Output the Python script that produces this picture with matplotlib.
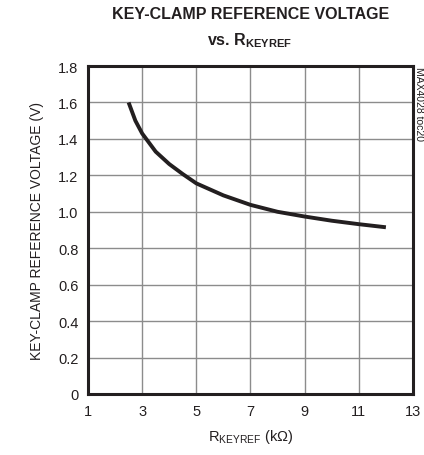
import matplotlib.pyplot as plt

plt.rcParams['font.family'] = ['Liberation Sans', 'DejaVu Sans']
plt.rcParams['mathtext.fontset'] = 'custom'
plt.rcParams['mathtext.rm'] = 'Liberation Sans'
plt.rcParams['mathtext.bf'] = 'Liberation Sans:bold'

# curve
r_keyref = [2.5, 2.75, 3, 3.5, 4, 4.5, 5, 6, 7, 8, 9, 10, 11, 12]
v_clamp = [1.6, 1.5, 1.43, 1.33, 1.262, 1.207, 1.156, 1.09, 1.038, 1.0, 0.974, 0.951, 0.932, 0.915]

x_ticks = [1, 3, 5, 7, 9, 11, 13]
y_ticks = [0, 0.2, 0.4, 0.6, 0.8, 1.0, 1.2, 1.4, 1.6, 1.8]
y_labels = ['0', '0.2', '0.4', '0.6', '0.8', '1.0', '1.2', '1.4', '1.6', '1.8']

fig = plt.figure(figsize=(4.24, 4.56), dpi=100)
ax = fig.add_axes([0.2075, 0.1338, 0.7665, 0.7192])

ax.plot(r_keyref, v_clamp, color='#231f20', lw=2.8, solid_capstyle='butt')

ax.set_xlim(1, 13)
ax.set_ylim(0, 1.8)
ax.set_xticks(x_ticks)
ax.set_yticks(y_ticks)
ax.set_yticklabels(y_labels)
ax.tick_params(length=0, labelsize=10.5, colors='#231f20', pad=7)
ax.grid(True, color='#8c8c8c', lw=1.0)
ax.set_axisbelow(True)
for s in ax.spines.values():
    s.set_linewidth(2.2)
    s.set_color('#231f20')

ax.set_xlabel(r'R$_{\mathregular{KEYREF}}$ (k$\mathregular{\Omega}$)', fontsize=10.5,
              color='#231f20', labelpad=7)
ax.set_ylabel('KEY-CLAMP REFERENCE VOLTAGE (V)', fontsize=10, color='#231f20', labelpad=10)

fig.text(0.59, 0.969, 'KEY-CLAMP REFERENCE VOLTAGE', ha='center', va='center',
         fontsize=11.5, fontweight='bold', color='#231f20')
fig.text(0.59, 0.91, r'vs. R$_{\mathbf{KEYREF}}$', ha='center', va='center',
         fontsize=11.5, fontweight='bold', color='#231f20')

fig.text(0.988, 0.852, 'MAX4028 toc20', rotation=-90, ha='center', va='top',
         fontsize=7.5, color='#231f20')

fig.savefig('out.png', dpi=100)
